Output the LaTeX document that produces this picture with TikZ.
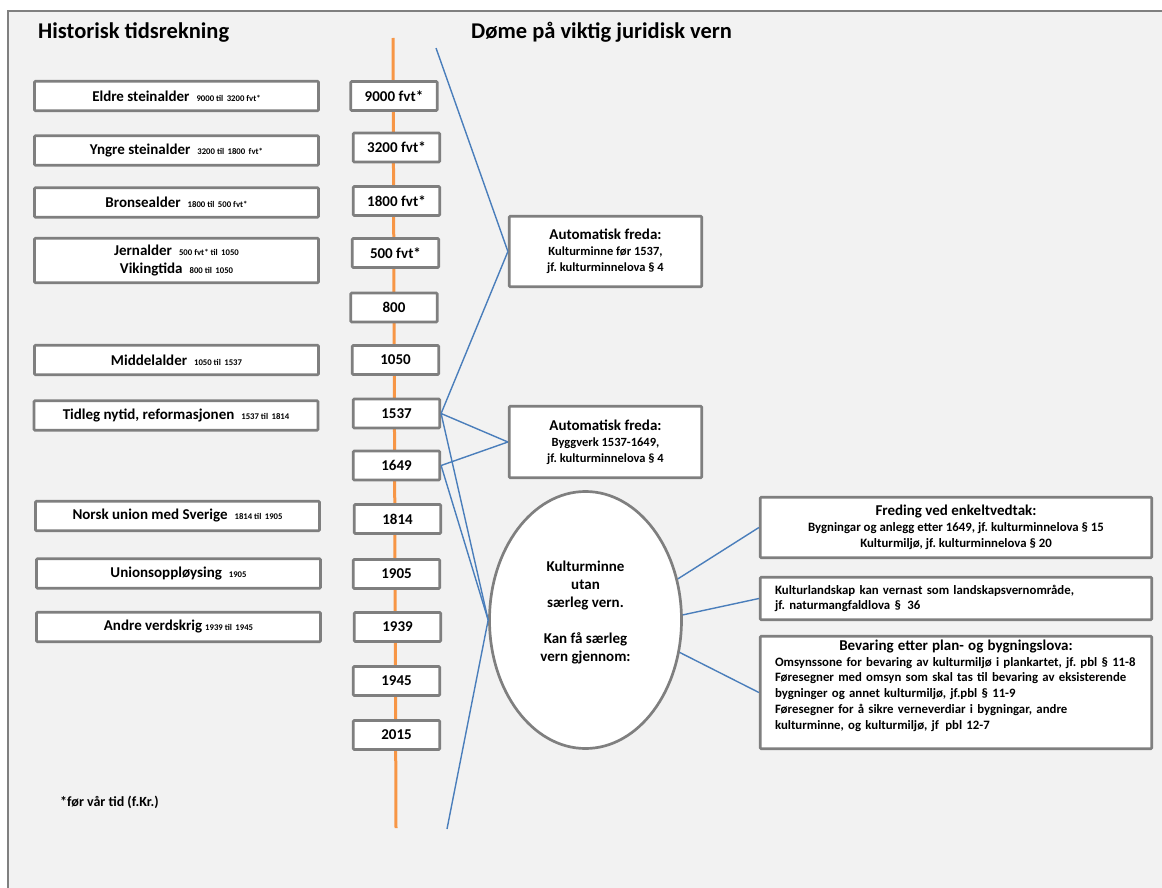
\documentclass[tikz,border=0pt]{standalone}
\usepackage{fontspec}
\setmainfont{Carlito}
\usetikzlibrary{shapes.geometric}
\definecolor{bg}{RGB}{242,242,242}
\definecolor{framegray}{RGB}{128,128,128}
\definecolor{boxgray}{RGB}{127,127,127}
\definecolor{lineblue}{RGB}{74,126,187}
\definecolor{tlorange}{RGB}{247,150,70}
\newcommand{\smalltxt}[1]{{\fontsize{8.7}{9}\selectfont #1}}
\newcommand{\titletxt}[1]{{\fontsize{15}{16}\selectfont #1}}
\frenchspacing
\begin{document}
\frenchspacing
\begin{tikzpicture}[x=1pt,y=-1pt,
  box/.style={draw=boxgray, line width=2.7pt, fill=white, rounded corners=1pt, inner sep=0pt,
    font=\bfseries\frenchspacing\fontsize{15}{18}\selectfont, text=black},
  ybox/.style={box, minimum width=86.5pt, minimum height=29pt},
  lbox/.style={box, minimum width=284pt, minimum height=29.5pt},
  rbox/.style={box, minimum width=192.5pt, font=\bfseries\frenchspacing\fontsize{12.5}{16}\selectfont, align=center},
  wbox/.style={box, minimum width=391.5pt, font=\bfseries\frenchspacing\fontsize{12.8}{15.8}\selectfont},
  heading/.style={font=\bfseries\fontsize{22.5}{26}\selectfont, inner sep=0pt, anchor=base west},
  blueline/.style={draw=lineblue, line width=1.4pt},
  orangeline/.style={draw=tlorange, line width=3pt}
]
\useasboundingbox (0,0) rectangle (1162,888);
\fill[white] (0,0) rectangle (1162,888);
\fill[bg] (8,11) rectangle (1162,888);
\draw[framegray, line width=1.8pt] (1162,11) -- (8,11) -- (8,888);

% headings
\node[heading] (h1) at (38,39) {Historisk tidsrekning};
\node[heading] (h2) at (471,39) {Døme på viktig juridisk vern};

% timeline
\coordinate (otop) at (393,38);
\coordinate (obot) at (396,828);
\draw[orangeline] (otop) -- (obot);

% left boxes
\node[lbox] (eldre) at (176.5,96) {Eldre steinalder\hspace{7pt}\smalltxt{9000 til\, 3200 fvt*}};
\node[lbox] (yngre) at (176.5,150.5) {Yngre steinalder\hspace{7pt}\smalltxt{3200 til\, 1800\, fvt*}};
\node[lbox] (bronse) at (176.5,202.5) {Bronsealder\hspace{7pt}\smalltxt{1800 til\, 500 fvt*}};
\node[lbox, minimum height=44.5pt, align=center] (jern) at (176.5,260.5)
  {Jernalder\hspace{7pt}\smalltxt{500 fvt* til\, 1050}\\Vikingtida\hspace{7pt}\smalltxt{800 til\, 1050}};
\node[lbox] (middel) at (176.5,360) {Middelalder\hspace{7pt}\smalltxt{1050 til\, 1537}};
\node[lbox] (tidleg) at (176,415.5) {Tidleg nytid, reformasjonen\hspace{7pt}\smalltxt{1537 til\, 1814}};
\node[lbox] (norsk) at (177.5,516) {Norsk union med Sverige\hspace{7pt}\smalltxt{1814 til\, 1905}};
\node[lbox] (union) at (178.5,573.5) {Unionsoppløysing\hspace{7pt}\smalltxt{1905}};
\node[lbox] (andre) at (178.5,627) {Andre verdskrig\hspace{3pt}\smalltxt{1939 til\, 1945}};

% year boxes
\node[ybox] (y9000) at (394,96) {9000 fvt*};
\node[ybox] (y3200) at (396.5,147.5) {3200 fvt*};
\node[ybox] (y1800) at (396.5,201) {1800 fvt*};
\node[ybox] (y500) at (395.5,253) {500 fvt*};
\node[ybox] (y800) at (394,307.5) {800};
\node[ybox] (y1050) at (395.5,360) {1050};
\node[ybox] (y1537) at (396.5,413.5) {1537};
\node[ybox] (y1649) at (396.5,465.5) {1649};
\node[ybox] (y1814) at (397.5,519) {1814};
\node[ybox] (y1905) at (396.5,574) {1905};
\node[ybox] (y1939) at (397.5,627) {1939};
\node[ybox] (y1945) at (396.5,681) {1945};
\node[ybox] (y2015) at (396.5,735) {2015};

% footnote
\node[font=\bfseries\fontsize{14}{16}\selectfont, inner sep=0pt, anchor=base west] (fn) at (60,806) {*før vår tid (f.Kr.)};

% right side boxes
\node[rbox, minimum height=70.5pt] (auto1) at (605.5,251.5)
  {\titletxt{Automatisk freda:}\\Kulturminne før 1537,\\jf. kulturminnelova § 4};
\node[rbox, minimum height=71.5pt] (auto2) at (605.5,442)
  {\titletxt{Automatisk freda:}\\Byggverk 1537-1649,\\jf. kulturminnelova § 4};

\node[draw=boxgray, line width=2.7pt, fill=white, ellipse, minimum width=192pt, minimum height=257pt,
  inner sep=0pt, align=center, font=\bfseries\fontsize{15}{18}\selectfont] (ell) at (585.5,620)
  {Kulturminne\\utan\\særleg vern.\\ \\Kan få særleg\\vern gjennom:\\ \mbox{}};

\node[wbox, minimum height=60.5pt, align=center] (freding) at (956,527.5)
  {\titletxt{Freding ved enkeltvedtak:}\\Bygningar og anlegg etter 1649, jf. kulturminnelova § 15\\Kulturmiljø, jf. kulturminnelova § 20};
\node[wbox, minimum height=42.5pt, text width=362pt, align=left] (landskap) at (956,598.5)
  {Kulturlandskap kan vernast som landskapsvernområde,\\jf. naturmangfaldlova §\, 36};
\node[wbox, minimum height=112.5pt, text width=362pt, align=left] (bevaring) at (956,692.5)
  {\makebox[362pt][c]{\titletxt{Bevaring etter plan- og bygningslova:}}\\
   \makebox[362pt][l]{Omsynssone for bevaring av kulturmiljø i plankartet, jf. pbl § 11-8}\\
   \makebox[362pt][l]{Føresegner med omsyn som skal tas til bevaring av eksisterende}\\
   bygninger og annet kulturmiljø, jf.pbl § 11-9\\
   Føresegner for å sikre verneverdiar i bygningar, andre\\
   kulturminne, og kulturmiljø, jf\, pbl 12-7\\ \mbox{}};

% blue connectors
\coordinate (btop) at (436,48);
\coordinate (bbot) at (447,829);
\draw[blueline] (btop) -- (auto1.west);
\draw[blueline] (y1537.east) -- (auto1.west);
\draw[blueline] (y1537.east) -- (auto2.west);
\draw[blueline] (y1649.east) -- (auto2.west);
\draw[blueline] (y1537.east) -- (ell.west);
\draw[blueline] (y1649.east) -- (ell.west);
\draw[blueline] (bbot) -- (ell.west);
\draw[blueline] (ell.24) -- (freding.west);
\draw[blueline] (ell.3) -- (landskap.west);
\draw[blueline] (ell.-19) -- (bevaring.west);
\end{tikzpicture}
\end{document}
